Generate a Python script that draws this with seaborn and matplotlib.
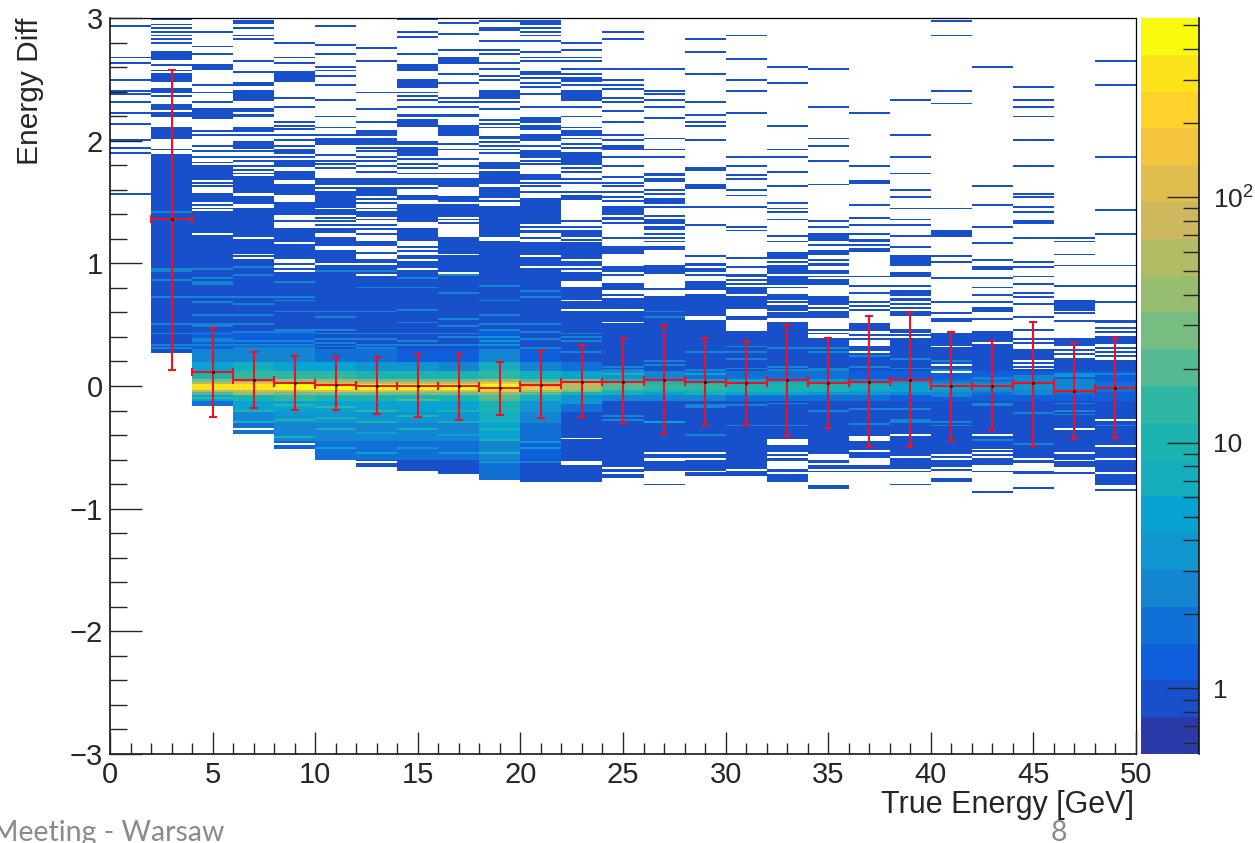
import numpy as np
import pandas as pd
import matplotlib
matplotlib.use("Agg")
import matplotlib.pyplot as plt
import seaborn as sns
from matplotlib.colors import ListedColormap, LogNorm

sns.set_style("white")
plt.rcParams['font.family'] = ['Liberation Sans', 'DejaVu Sans']

# 2 GeV bins, error bar values
bin_centers = [3, 5, 7, 9, 11, 13, 15, 17, 19, 21, 23, 25, 27, 29, 31, 33, 35, 37, 39, 41, 43, 45, 47, 49]
means = [1.36, .114, .05, .024, .01, 0, 0, 0, -.016, .01, .035, .035, .05, .035, .024, .05, .024, .035, .05, 0, 0, .024, -.04, -.016]
err_hi = [2.575, .47, .274, .244, .234, .234, .258, .258, .193, .288, .337, .388, .494, .388, .364, .494, .388, .573, .60, .443, .364, .52, .353, .39]
err_lo = [.13, -.25, -.18, -.198, -.198, -.226, -.25, -.277, -.24, -.264, -.25, -.305, -.394, -.318, -.318, -.41, -.345, -.50, -.50, -.449, -.359, -.487, -.435, -.424]

# lower edge and top of the nearly solid block, per column
col_bottom = [np.nan, .27, -.155, -.378, -.508, -.59, -.658, -.69, -.718, -.753, -.767, -.78, -.74, -.81, -.78, -.81, -.77, -.835, -.87, -.81, -.78, -.86, -.84, -.90, -.80]
solid_top = [np.nan, 1.43, 1.425, 1.455, .97, 1.12, 1.04, 1.07, 1.07, 1.19, 1.175, .97, 1.027, 1.03, 1.03, 1.03, 1.03, 1.03, .334, .47, .44, .457, .307, .225, .22]

# filled rows above the block: a number is one row, a pair is a thick run
upper_rows = [
    [2.93, 2.67, 2.63, 2.5, 2.41, 2.37, 2.32, 2.22, 2.13, 2.0, 1.94, 1.9, 1.56],
    [3.0, 2.95, 2.91, 2.88, 2.85, 2.83, 2.79, 2.72, (2.66, 2.7), 2.615, 2.575, (2.48, 2.54), (2.39, 2.42), 2.36, (2.25, 2.29), (2.19, 2.23), (2.02, 2.1), 1.92, (1.84, 1.875), (1.77, 1.82), (1.6, 1.755), (1.435, 1.575)],
    [2.88, 2.76, 2.7, (2.58, 2.62), 2.45, 2.39, 2.315, (2.2, 2.25), 2.18, 2.07, 2.04, 1.95, 1.91, 1.87, 1.82, 1.795, (1.705, 1.78), 1.69, 1.657, 1.62, (1.525, 1.56), 1.5, 1.47, 1.44],
    [2.98, 2.955, 2.915, 2.855, 2.825, 2.64, 2.555, 2.47, 2.445, (2.35, 2.41), 2.33, 2.26, 2.24, 2.21, 2.19, (2.07, 2.1), 2.045, (1.94, 1.99), 1.91, 1.87, 1.83, 1.79, 1.76, 1.73, (1.645, 1.705), (1.58, 1.62), (1.49, 1.53)],
    [2.79, 2.684, 2.63, (2.53, 2.55), (2.48, 2.505), 2.34, 2.28, 2.155, 2.12, 2.09, 2.05, 2.0, 1.96, (1.9, 1.92), 1.87, (1.81, 1.835), 1.79, (1.68, 1.75), (1.565, 1.64), (1.45, 1.49), (1.4, 1.425), 1.345, 1.284, (1.24, 1.27), (1.17, 1.215), (1.04, 1.14), 1.0],
    [2.93, 2.78, 2.7, 2.6, 2.575, 2.525, 2.445, 2.33, 2.195, 2.11, 2.05, (1.97, 2.02), 1.88, 1.84, 1.81, 1.77, (1.64, 1.69), 1.61, 1.58, (1.515, 1.56), (1.46, 1.5), (1.395, 1.43), 1.365, 1.34, 1.31, (1.245, 1.285), (1.14, 1.2)],
    [2.75, 2.64, 2.39, 2.255, 2.155, (2.045, 2.08), (1.97, 2.02), 1.936, 1.91, 1.87, 1.83, 1.79, 1.745, (1.64, 1.69), (1.55, 1.615), 1.515, 1.49, 1.45, (1.38, 1.42), 1.35, 1.31, 1.285, 1.23, (1.15, 1.175), 1.08],
    [3.0, 2.89, 2.84, 2.7, (2.57, 2.61), 2.5, (2.44, 2.48), 2.39, 2.36, 2.325, 2.28, (2.195, 2.215), (2.125, 2.16), (1.97, 1.99), (1.88, 1.94), 1.855, 1.8, 1.77, 1.73, (1.64, 1.69), 1.61, (1.515, 1.555), (1.405, 1.475), (1.34, 1.39), (1.195, 1.285), 1.13, 1.1],
    [2.96, 2.87, 2.74, (2.635, 2.675), 2.535, 2.46, 2.345, 2.31, 2.28, (2.19, 2.215), (2.04, 2.115), 1.965, 1.92, 1.855, 1.79, 1.73, 1.69, (1.625, 1.665), (1.5, 1.53), (1.405, 1.475), 1.38, 1.35, 1.325, (1.09, 1.2)],
    [2.98, 2.92, 2.895, 2.81, 2.74, 2.7, 2.63, 2.58, 2.52, 2.5, 2.41, (2.35, 2.385), 2.315, 2.26, 2.17, 2.14, 2.11, (2.01, 2.035), 1.98, 1.95, 1.92, 1.895, (1.775, 1.815), (1.65, 1.75), (1.54, 1.61), 1.51, (1.405, 1.465), (1.215, 1.38)],
    [(2.94, 2.97), 2.91, 2.88, 2.85, 2.81, 2.72, 2.67, 2.64, (2.535, 2.55), 2.51, 2.47, 2.43, 2.37, 2.275, (2.155, 2.185), (2.085, 2.12), 2.05, (1.995, 2.03), 1.955, 1.91, (1.86, 1.89), 1.84, 1.81, (1.685, 1.72), 1.655, 1.62, 1.58, (1.435, 1.515), (1.325, 1.42), 1.3, 1.27, 1.245, 1.2],
    [2.8, 2.74, 2.67, 2.64, 2.59, 2.54, (2.48, 2.51), 2.445, 2.41, (2.335, 2.385), 2.27, 2.19, 2.11, (2.04, 2.07), 2.01, 1.975, 1.935, (1.84, 1.89), (1.8, 1.82), 1.78, 1.74, 1.68, 1.65, 1.58, (1.525, 1.55), 1.34, 1.3, 1.27, (1.215, 1.245), 1.19, (1.04, 1.155), (.985, 1.01)],
    [2.89, 2.83, 2.59, 2.5, 2.445, 2.42, 2.35, 2.315, 2.24, 2.145, 2.05, 1.995, (1.92, 1.95), 1.86, 1.79, 1.705, 1.66, 1.62, 1.575, 1.53, 1.5, (1.44, 1.465), (1.405, 1.43), (1.35, 1.375), 1.32, 1.2, (1.08, 1.135)],
    [2.58, 2.407, 2.37, 2.33, 2.276, 2.186, 2.018, 1.923, 1.86, (1.71, 1.73), (1.67, 1.69), 1.596, 1.57, (1.497, 1.52), 1.46, 1.385, (1.325, 1.352), (1.275, 1.298), 1.237, 1.2, 1.175, 1.135, 1.11],
    [2.83, 2.72, 2.54, 2.316, 2.21, 2.145, 2.12, 2.005, (1.76, 1.78), (1.615, 1.637), 1.466, 1.306, 1.06],
    [2.855, 2.656, 2.5, 2.406, 2.22, 1.874, 1.79, 1.714, 1.686, 1.597, 1.556, 1.466, 1.292, 1.27, 1.045],
    [2.6, 2.46, 2.118, 1.923, 1.86, 1.74, 1.62, 1.493, 1.44, 1.412, 1.357, 1.216, 1.175, (1.04, 1.086)],
    [2.59, 2.276, 2.015, 1.95, 1.844, 1.648, 1.347, 1.292, (1.19, 1.24), 1.154, (1.075, 1.102), 1.034],
    [2.227, 1.79, 1.675, 1.65, 1.47, 1.374, 1.31, 1.24, (1.17, 1.195), 1.15, 1.12, 1.1, .897, .823, .75, .68, .647, .62, (.456, .497), .415, .375],
    [2.33, 2.053, 1.874, 1.727, 1.6, 1.53, 1.453, 1.357, 1.314, 1.216, 1.137, (1.025, 1.05), (.985, 1.01), (.897, .92), .823, (.735, .77), (.695, .715), .66, .633, (.58, .605)],
    [2.97, 2.85, 2.406, 2.303, 1.44, (1.24, 1.26), 1.216, 1.06, 1.005, .877, .687, .59, (.525, .55)],
    [2.6, 1.62, 1.477, 1.292, 1.162, 1.03, .97, .945, .877, .8, .747, .687, (.606, .64), .54],
    [2.434, 2.33, 2.27, 2.2, 2.005, 1.79, 1.57, 1.542, 1.46, 1.42, 1.347, 1.32, 1.2, 1.018, .966, .885, .837, .76, .733, .67, .557, .457, .388, .348],
    [1.2, 1.175, 1.072, .977, .81, (.62, .695), .592, .525, (.334, .375), .29, .26],
    [2.644, 2.445, 1.874, 1.425, 1.24, .98, .815, .687, (.51, .53), .465, .443, .396, (.345, .375), .307, .28, .25, -.855],
]

# empty rows inside the block
block_gaps = [
    [], [],
    [1.24],
    [1.208, 1.067, 1.04, -.36],
    [.94, -.473],
    [.994],
    [.994, .9, -.63],
    [1.03, .945],
    [.926],
    [],
    [1.05, .967],
    [.94, (.815, .85), .69, .625, -.435, -.617, -.645],
    [(.98, 1.01), .925, (.85, .89), (.755, .77), .73, .615, .51, -.67, -.72],
    [(.995, 1.027), (.865, .905), (.805, .85), (.74, .775), -.55, (-.61, -.59), (-.755, -.70), (-.795, -.775)],
    [1.01, .96, .92, (.86, .89), .777, .755, .565, .54, -.545, -.60, -.70, (-.78, -.74)],
    [(.985, 1.03), (.915, .945), .88, .85, .82, .735, .625, (.58, .605), (.485, .525), (.45, .47), -.69, -.74, (-.80, -.76)],
    [1.0, .91, .82, (.755, .79), .69, .66, .605, .55, .525, (-.48, -.445), -.55, -.575, (-.665, -.625), -.71],
    [1.01, .97, .945, .905, .87, (.74, .81), .65, .625, (.475, .54), .44, .415, .39, (-.60, -.56), -.645, -.685, (-.80, -.71)],
    [.27, (-.44, -.415), -.527, (-.645, -.60), -.685, (-.766, -.71), (-.825, -.79), (-.86, -.84)],
    [.424, .39, -.40, -.58, -.68, (-.795, -.71)],
    [.315, .17, .117, -.56, -.59, -.665, (-.74, -.70)],
    [.348, -.394, -.52, -.55, -.575, (-.69, -.65), (-.745, -.71), (-.845, -.76)],
    [.198, .17, .144, -.60, (-.685, -.64), (-.80, -.73), -.825],
    [-.36, -.555, -.61, (-.695, -.67), (-.745, -.73), (-.89, -.76)],
    [-.277, -.487, -.595, -.71],
]

# counts in wide y bands, lowest band first, one list per column
band_edges = [-.95, -.6, -.45, -.3, -.2, -.12, -.07, -.04, -.025, .025, .04, .07, .12, .2, .3, .45, .6, .9, 3.0]
band_counts = [
    [1] * 18,
    [1] * 18,
    [1, 1, 1, 1, 2, 6, 20, 60, 300, 60, 25, 12, 6, 3, 1.3, 1, 1, 1],
    [1, 1, 1.8, 3, 5, 12, 35, 90, 350, 100, 40, 15, 7, 3, 1.3, 1, 1, 1],
    [1, 1.5, 3, 4, 6, 14, 30, 80, 400, 90, 35, 14, 6, 3, 1.3, 1, 1, 1],
    [1, 2, 3, 4, 6, 12, 28, 100, 420, 80, 35, 14, 5, 2, 1, 1, 1, 1],
    [1, 2, 2.5, 4, 6, 12, 30, 100, 420, 90, 30, 12, 4, 1.6, 1, 1, 1, 1],
    [1, 1.8, 3, 4, 6, 10, 25, 70, 420, 80, 25, 10, 4, 1.5, 1, 1, 1, 1],
    [1, 1.8, 2.5, 3.5, 5, 10, 25, 70, 450, 80, 25, 10, 3, 1.5, 1, 1, 1, 1],
    [1.8, 3, 5, 8, 12, 20, 40, 150, 520, 150, 45, 15, 7, 3, 1.5, 1, 1, 1],
    [1, 1.5, 2, 3, 4, 8, 20, 60, 180, 60, 20, 7, 3, 1.5, 1, 1, 1, 1],
    [1, 1, 1, 1, 1.6, 4, 10, 30, 60, 60, 30, 6, 1.6, 1, 1, 1, 1, 1],
    [1, 1, 1, 1, 1, 2.5, 7, 12, 22, 18, 12, 4, 1, 1, 1, 1, 1, 1],
    [1, 1, 1, 1, 1, 2.5, 6, 10, 16, 12, 8, 3, 1, 1, 1, 1, 1, 1],
    [1, 1, 1, 1, 1, 2.2, 7, 10, 13, 10, 6, 2, 1, 1, 1, 1, 1, 1],
    [1, 1, 1, 1, 1, 2, 6, 9, 11, 8, 5, 2, 1, 1, 1, 1, 1, 1],
    [1, 1, 1, 1, 1, 2, 5, 8, 10, 7, 4, 1.6, 1, 1, 1, 1, 1, 1],
    [1, 1, 1, 1, 1, 1.6, 4, 7, 9, 6, 3.5, 1.6, 1, 1, 1, 1, 1, 1],
    [1, 1, 1, 1, 1, 1.6, 3.5, 5, 7, 5, 3, 1.5, 1, 1, 1, 1, 1, 1],
    [1, 1, 1, 1, 1, 1.5, 3, 5, 6, 4, 2.5, 1.5, 1, 1, 1, 1, 1, 1],
    [1, 1, 1, 1, 1, 1.3, 2.2, 3.5, 4.5, 3, 2, 1.3, 1, 1, 1, 1, 1, 1],
    [1, 1, 1, 1, 1, 1.3, 2, 3, 3.5, 3, 2, 1.3, 1, 1, 1, 1, 1, 1],
    [1, 1, 1, 1, 1, 1.3, 2.5, 3, 3.5, 4, 3, 1.3, 1, 1, 1, 1, 1, 1],
    [1, 1, 1, 1, 1, 1.3, 1.6, 2, 2.5, 3, 3, 1.5, 1, 1, 1, 1, 1, 1],
    [1, 1, 1, 1, 1, 1.2, 1.5, 1.8, 2, 1.6, 1.3, 1.1, 1, 1, 1, 1, 1, 1],
]

# brighter single rows seen inside the block
bright_rows = [
    [],
    [1.42, .95, .93, .86, .72, .5, .42, .34, .3],
    [.95, .87, .85, .83, .73, .68, .58, .5, .48, .42, .38, .36, .33, -.1],
    [.97, .9, .72, .66, .58, .5, .44, .36, .34, .31, -.2, -.3],
    [.85, .72, .69, .6, .46, .44, .36, .33, .31, -.16, -.28, -.42],
    [.93, .6, .56, .45, .42, .38, .35, .32, -.17, -.27, -.35, -.5],
    [.94, .8, .6, .42, .38, .33, .31, -.2, -.3, -.38, -.55],
    [.88, .8, .62, .52, .42, .36, .33, -.12, -.25, -.36, -.5],
    [.9, .75, .55, .48, .43, .4, .34, -.2, -.3, -.4, -.55],
    [.82, .7, .57, .5, .45, .4, .36, .33, -.36, -.45, -.55, -.62],
    [.77, .72, .5, .44, .38, .31, -.46, -.5, -.62],
    [.42, .4, .36, .28, -.13, -.15],
    [.16, .13, .1, -.25, -.28],
    [.6, .56, .2, .17, -.29, -.3],
    [.27, .13, .1, -.16, -.17, -.4],
    [.32, .28, .22, .14, -.16, -.33],
    [.3, .15, .13, -.14, -.33],
    [.3, .28, .14, .12, -.2],
    [.24, .15, -.19, -.31],
    [.22, .14, -.19, -.28, -.3],
    [.2, .12, -.09, -.29, -.32],
    [.06, -.14, -.16, -.45],
    [.08, .06, -.22, -.48],
    [.1, .08, -.15, -.2, -.24],
    [.09, -.32],
]

# contour colours of the palette, dark blue at the bottom
palette_colors = ["#2B3AA8", "#1850CC", "#0F5EDC", "#1170D5", "#1485D0", "#0F95CF", "#08A3D0", "#15AEBE", "#1CB2AF", "#2FB7A3",
                  "#55BA93", "#77BC80", "#97BE70", "#B4BB65", "#CDB85D", "#E0BD4E", "#F4C53C", "#FFD22B", "#FDE41A", "#F9FB0E"]

n_rows = 400
row_lo = -3.0
row_step = 6.0 / n_rows

def row_of(y):
    return int(np.clip(np.floor((y - row_lo) / row_step), 0, n_rows - 1))

def set_rows(grid, col, item, value):
    if isinstance(item, tuple):
        grid[row_of(item[0]):row_of(item[1]) + 1, col] = value
    else:
        grid[row_of(item), col] = value

counts = np.zeros((n_rows, 25))
for c in range(25):
    if not np.isnan(col_bottom[c]):
        counts[row_of(col_bottom[c]):row_of(solid_top[c]), c] = 1
    for item in upper_rows[c]:
        set_rows(counts, c, item, 1)
    for item in block_gaps[c]:
        set_rows(counts, c, item, 0)
    filled = counts[:, c] > 0
    for b in range(18):
        lo, hi = row_of(band_edges[b]), row_of(band_edges[b + 1])
        counts[lo:hi, c] = np.where(filled[lo:hi], band_counts[c][b], 0)
    for y in bright_rows[c]:
        r = row_of(y)
        if counts[r, c] > 0:
            counts[r, c] = counts[r, c] * 2.2

W, H = 1255, 843
fig = plt.figure(figsize=(W / 100, H / 100), dpi=100)
box = [110 / W, 1 - 754 / H, 1026 / W, 736 / H]
ax_hist = fig.add_axes(box)
cax = fig.add_axes([1141 / W, 1 - 754 / H, 58 / W, 736 / H])

table = pd.DataFrame(counts)
sns.heatmap(table, ax=ax_hist, cbar_ax=cax, mask=counts <= 0,
            cmap=ListedColormap(palette_colors), norm=LogNorm(0.54, 536),
            xticklabels=False, yticklabels=False)
ax_hist.invert_yaxis()
ax_hist.axis("off")

# overlay with the real axes for ticks and profile points
ax = fig.add_axes(box, facecolor="none")
ax.set_axisbelow(False)
ax.set_xlim(0, 50)
ax.set_ylim(-3, 3)
y_up = np.array(err_hi) - np.array(means)
y_down = np.array(means) - np.array(err_lo)
ax.errorbar(bin_centers, means, xerr=1, yerr=[y_down, y_up], fmt="o", color="black", markersize=1,
            ecolor="#EE1122", elinewidth=1.5, capsize=3, capthick=1.5)

ax.set_xticks(range(0, 51, 5))
ax.set_xticks(range(0, 51), minor=True)
ax.set_yticks(range(-3, 4))
ax.set_yticks(np.arange(-3, 3.01, 0.2), minor=True)
ax.set_yticklabels(["\u22123", "\u22122", "\u22121", "0", "1", "2", "3"])
ax.tick_params(axis="x", which="major", direction="in", length=16, width=1.0, labelsize=21, pad=5, bottom=True)
ax.tick_params(axis="x", which="minor", direction="in", length=8, width=1.0, bottom=True)
ax.tick_params(axis="y", which="major", direction="in", length=23, width=1.0, labelsize=21, pad=5, left=True)
ax.tick_params(axis="y", which="minor", direction="in", length=12, width=1.0, left=True)
for side in ax.spines:
    ax.spines[side].set_visible(True)
    ax.spines[side].set_color("black")
    ax.spines[side].set_linewidth(1.1)
ax.spines["top"].set_linewidth(0.9)
ax.spines["right"].set_linewidth(0.9)

cbar = ax_hist.collections[0].colorbar
cbar.outline.set_visible(False)
cax.set_axisbelow(False)
cax.yaxis.set_ticks_position("right")
cax.set_yticks([1, 10, 100])
cax.set_yticklabels(["1", "10", "$\\mathregular{10^{2}}$"])
cax.set_yticks([.6, .7, .8, .9, 2, 3, 4, 5, 6, 7, 8, 9, 20, 30, 40, 50, 60, 70, 80, 90, 200, 300, 400, 500], minor=True)
cax.set_yticklabels([], minor=True)
cax.tick_params(axis="y", which="major", direction="in", length=23, width=1.0, labelsize=19, pad=10, right=True, left=False)
cax.tick_params(axis="y", which="minor", direction="in", length=11.5, width=1.0, right=True, left=False)
cax.spines["right"].set_visible(True)
cax.spines["right"].set_color("black")
cax.spines["right"].set_linewidth(1.1)

fig.text(30 / W, 1 - 18 / H, "Energy Diff", rotation=90, ha="center", va="top", fontsize=21.5)
fig.text(1134 / W, 1 - 805 / H, "True Energy [GeV]", ha="right", va="center", fontsize=22)
fig.text(-8 / W, 1 - 833 / H, "Meeting - Warsaw", ha="left", va="center", fontsize=20.5, color="#8A8A8A", family="Lato")
fig.text(1059 / W, 1 - 833 / H, "8", ha="center", va="center", fontsize=20.5, color="#8A8A8A", family="Lato")

fig.savefig("out.png", dpi=100)
